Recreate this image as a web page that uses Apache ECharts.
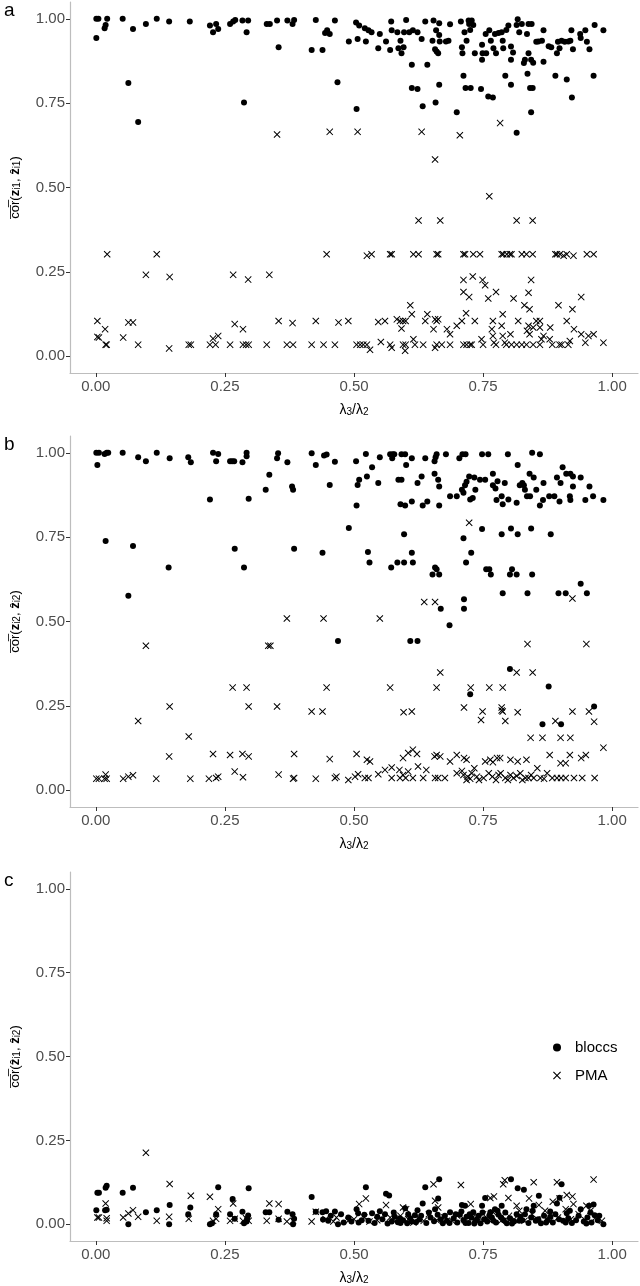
<!DOCTYPE html>
<html lang="en">
  <head>
    <meta charset="utf-8" />
    <script src="https://cdn.jsdelivr.net/npm/echarts@6/dist/echarts.min.js"></script>
    <title>bloccs vs PMA</title>
    <style>
      html, body { margin: 0; padding: 0; background: #fff; }
      #chart { width: 640px; height: 1286px; }
    </style>
  </head>
  <body>
    <div id="chart"></div>
    <script>
      // tick labels shared by all panels
      var ticks = [0, 0.25, 0.5, 0.75, 1]

      // panel a: cor(z_i1, zhat_i1)
      var aBloccs = [
        [0.001,1.0],[0.005,1.0],[0.001,0.943],[0.019,0.982],[0.017,0.972],[0.022,1.0],[0.052,1.0],[0.063,0.81],
        [0.072,0.97],[0.082,0.694],[0.097,0.985],[0.118,1.0],[0.142,0.992],[0.182,0.992],[0.221,0.98],[0.227,0.96],
        [0.233,0.985],[0.237,0.97],[0.26,0.985],[0.266,0.992],[0.27,0.997],[0.284,0.995],[0.287,0.752],[0.292,0.96],
        [0.295,0.995],[0.331,0.985],[0.337,0.985],[0.351,0.995],[0.354,0.916],[0.371,0.995],[0.381,0.985],[0.384,0.997],
        [0.418,0.908],[0.426,0.997],[0.439,0.908],[0.444,0.958],[0.448,0.966],[0.453,0.955],[0.463,0.995],[0.468,0.812],
        [0.49,0.933],[0.504,0.989],[0.505,0.733],[0.507,0.94],[0.51,0.98],[0.521,0.972],[0.523,0.933],[0.528,0.966],
        [0.534,0.96],[0.547,0.913],[0.55,0.955],[0.562,0.933],[0.57,0.908],[0.572,0.992],[0.573,0.966],[0.584,0.96],
        [0.586,0.913],[0.59,0.935],[0.592,0.898],[0.596,0.916],[0.597,0.96],[0.601,0.997],[0.607,0.96],[0.612,0.864],
        [0.612,0.795],[0.614,0.966],[0.623,0.96],[0.623,0.792],[0.631,0.94],[0.633,0.741],[0.638,0.992],[0.642,0.864],
        [0.652,0.935],[0.654,0.995],[0.657,0.91],[0.658,0.752],[0.659,0.966],[0.66,0.903],[0.663,0.898],[0.665,0.952],
        [0.665,0.805],[0.665,0.987],[0.666,0.933],[0.678,0.933],[0.683,0.935],[0.686,0.984],[0.699,0.723],[0.707,0.992],
        [0.709,0.916],[0.71,0.898],[0.712,0.831],[0.714,0.96],[0.716,0.795],[0.718,0.935],[0.722,0.995],[0.723,0.985],
        [0.725,0.967],[0.726,0.795],[0.728,0.995],[0.731,0.982],[0.734,0.898],[0.746,0.792],[0.748,0.923],[0.748,0.879],
        [0.749,0.898],[0.755,0.955],[0.756,0.898],[0.76,0.77],[0.762,0.966],[0.765,0.935],[0.769,0.767],[0.77,0.913],
        [0.773,0.955],[0.775,0.898],[0.78,0.958],[0.786,0.96],[0.788,0.935],[0.789,0.913],[0.793,0.831],[0.795,0.967],
        [0.799,0.98],[0.804,0.918],[0.804,0.879],[0.804,0.805],[0.808,0.9],[0.815,0.662],[0.817,0.999],[0.815,0.982],
        [0.82,0.96],[0.825,0.985],[0.829,0.869],[0.831,0.879],[0.835,0.955],[0.836,0.837],[0.838,0.898],[0.838,0.985],
        [0.841,0.795],[0.843,0.879],[0.844,0.985],[0.846,0.795],[0.843,0.723],[0.847,0.87],[0.853,0.932],[0.857,0.933],
        [0.864,0.935],[0.867,0.966],[0.867,0.873],[0.877,0.919],[0.882,0.916],[0.89,0.831],[0.893,0.898],[0.895,0.932],
        [0.898,0.913],[0.902,0.935],[0.908,0.932],[0.912,0.82],[0.915,0.933],[0.919,0.935],[0.921,0.966],[0.922,0.767],
        [0.924,0.91],[0.938,0.955],[0.939,0.943],[0.948,0.966],[0.951,0.932],[0.956,0.91],[0.964,0.831],[0.966,0.982],
        [0.983,0.966]
      ]
      var aPMA = [
        [0.351,0.657],[0.453,0.665],[0.507,0.665],[0.631,0.665],[0.705,0.655],[0.783,0.691],[0.657,0.583],[0.762,0.474],
        [0.625,0.402],[0.667,0.402],[0.815,0.402],[0.846,0.402],
        [0.022,0.302],[0.118,0.302],[0.447,0.302],[0.525,0.298],[0.534,0.302],[0.57,0.302],[0.573,0.302],[0.615,0.302],
        [0.625,0.302],[0.66,0.302],[0.663,0.302],[0.712,0.302],[0.715,0.302],[0.731,0.302],[0.744,0.302],[0.786,0.302],
        [0.789,0.302],[0.796,0.302],[0.802,0.302],[0.805,0.302],[0.825,0.302],[0.834,0.302],[0.846,0.302],[0.89,0.302],
        [0.893,0.302],[0.899,0.302],[0.906,0.298],[0.912,0.302],[0.925,0.298],[0.951,0.302],[0.964,0.302],
        [0.097,0.241],[0.143,0.235],[0.266,0.241],[0.295,0.227],[0.336,0.241],
        [0.003,0.104],[0.003,0.057],[0.006,0.055],[0.018,0.08],[0.019,0.034],[0.021,0.034],[0.053,0.055],[0.063,0.1],
        [0.072,0.1],[0.082,0.034],[0.142,0.023],[0.18,0.034],[0.184,0.034],[0.221,0.034],[0.227,0.052],[0.232,0.034],
        [0.237,0.06],[0.26,0.034],[0.269,0.095],[0.285,0.08],[0.285,0.034],[0.291,0.034],[0.296,0.034],[0.331,0.034],
        [0.354,0.104],[0.37,0.034],[0.381,0.098],[0.382,0.034],[0.418,0.034],[0.426,0.104],
        [0.441,0.034],[0.463,0.034],[0.47,0.1],[0.489,0.104],[0.505,0.034],[0.512,0.034],[0.518,0.034],[0.525,0.034],
        [0.531,0.019],[0.547,0.101],[0.552,0.042],[0.56,0.104],[0.57,0.034],[0.573,0.025],[0.583,0.109],[0.589,0.104],
        [0.595,0.104],[0.6,0.104],[0.592,0.082],[0.595,0.034],[0.599,0.016],[0.6,0.034],[0.609,0.151],[0.612,0.124],
        [0.615,0.05],[0.618,0.034],[0.634,0.034],[0.638,0.104],[0.642,0.124],[0.654,0.08],[0.657,0.109],[0.66,0.104],
        [0.663,0.109],[0.657,0.025],[0.66,0.034],[0.67,0.034],[0.68,0.08],[0.686,0.065],[0.686,0.034],[0.699,0.09],
        [0.709,0.104],[0.712,0.034],[0.718,0.034],[0.725,0.034],[0.728,0.034],[0.717,0.127],[0.712,0.226],[0.712,0.19],
        [0.723,0.175],[0.73,0.236],[0.734,0.104],[0.749,0.226],[0.754,0.21],[0.747,0.05],[0.75,0.034],[0.76,0.171],
        [0.769,0.104],[0.775,0.19],[0.767,0.08],[0.769,0.06],[0.771,0.04],[0.775,0.034],[0.786,0.09],[0.788,0.124],
        [0.788,0.06],[0.792,0.04],[0.795,0.034],[0.805,0.034],[0.815,0.034],[0.825,0.034],[0.834,0.034],[0.847,0.034],
        [0.803,0.065],[0.809,0.171],[0.818,0.104],[0.83,0.151],[0.835,0.075],[0.838,0.09],[0.838,0.188],[0.84,0.139],
        [0.84,0.065],[0.843,0.226],[0.847,0.085],[0.853,0.104],[0.86,0.104],[0.86,0.085],[0.86,0.034],[0.863,0.05],
        [0.867,0.06],[0.88,0.085],[0.879,0.05],[0.884,0.034],[0.896,0.151],[0.898,0.034],[0.902,0.034],[0.912,0.104],
        [0.915,0.034],[0.918,0.045],[0.923,0.139],[0.926,0.08],[0.94,0.175],[0.94,0.065],[0.948,0.04],[0.954,0.06],
        [0.964,0.065],[0.983,0.04]
      ]

      // panel b: cor(z_i2, zhat_i2)
      var bBloccs = [
        [0.001,1.0],[0.006,1.0],[0.003,0.964],[0.019,0.739],[0.017,0.997],[0.021,1.0],[0.024,1.0],[0.052,1.0],
        [0.063,0.576],[0.072,0.724],[0.082,0.987],[0.097,0.975],[0.118,1.0],[0.141,0.66],[0.143,0.984],[0.179,0.987],
        [0.184,0.972],[0.221,0.862],[0.227,1.0],[0.233,0.975],[0.237,0.997],[0.26,0.975],[0.264,0.975],[0.268,0.975],
        [0.269,0.716],[0.284,0.972],[0.287,0.66],[0.292,1.0],[0.292,0.99],[0.296,0.864],[0.329,0.891],[0.336,0.935],
        [0.351,0.984],[0.353,0.999],[0.371,0.972],[0.38,0.9],[0.382,0.891],[0.384,0.716],[0.418,0.999],[0.426,0.964],
        [0.442,0.992],[0.447,0.995],[0.453,0.905],[0.463,0.974],[0.49,0.777],[0.439,0.704],[0.469,0.442],[0.504,0.975],
        [0.505,0.844],[0.507,0.905],[0.51,0.92],[0.523,0.997],[0.525,0.93],[0.527,0.706],[0.53,0.675],[0.535,0.957],
        [0.547,0.911],[0.55,0.987],[0.57,0.996],[0.575,0.996],[0.578,0.996],[0.572,0.66],[0.574,0.984],[0.584,0.675],
        [0.586,0.92],[0.592,0.92],[0.592,0.996],[0.599,0.996],[0.59,0.848],[0.597,0.759],[0.597,0.675],[0.599,0.844],
        [0.601,0.964],[0.609,0.442],[0.612,0.984],[0.612,0.856],[0.612,0.704],[0.614,0.675],[0.623,0.911],[0.623,0.442],
        [0.631,0.93],[0.633,0.844],[0.638,0.984],[0.642,0.856],[0.652,0.639],[0.656,0.938],[0.656,0.975],[0.658,0.987],
        [0.66,0.996],[0.657,0.66],[0.66,0.655],[0.663,0.92],[0.665,0.9],[0.665,0.639],[0.665,0.844],[0.668,0.538],
        [0.678,0.996],[0.685,0.489],[0.686,0.871],[0.699,0.871],[0.704,0.984],[0.709,0.891],[0.71,0.996],[0.716,0.996],
        [0.712,0.882],[0.712,0.747],[0.713,0.566],[0.713,0.538],[0.715,0.904],[0.717,0.675],[0.718,0.914],[0.723,0.93],
        [0.725,0.862],[0.727,0.704],[0.73,0.866],[0.733,0.927],[0.735,0.891],[0.744,0.92],[0.748,0.996],[0.748,0.774],
        [0.754,0.92],[0.756,0.655],[0.76,0.996],[0.762,0.655],[0.765,0.639],[0.769,0.938],[0.769,0.904],[0.774,0.894],
        [0.776,0.86],[0.778,0.916],[0.786,0.871],[0.786,0.759],[0.788,0.848],[0.788,0.584],[0.792,0.911],[0.798,0.996],
        [0.799,0.862],[0.804,0.776],[0.806,0.655],[0.802,0.639],[0.815,0.639],[0.817,0.964],[0.817,0.759],[0.815,0.852],
        [0.821,0.904],[0.826,0.911],[0.829,0.904],[0.831,0.891],[0.835,0.871],[0.836,0.584],[0.84,0.938],[0.841,0.871],
        [0.843,0.776],[0.845,0.639],[0.845,1.0],[0.848,0.927],[0.853,0.891],[0.86,0.996],[0.86,0.844],[0.866,0.86],
        [0.867,0.911],[0.878,0.871],[0.881,0.759],[0.888,0.871],[0.893,0.927],[0.896,0.584],[0.898,0.856],[0.9,0.911],
        [0.904,0.957],[0.91,0.584],[0.911,0.938],[0.919,0.938],[0.924,0.93],[0.918,0.871],[0.919,0.86],[0.924,0.9],
        [0.939,0.927],[0.939,0.612],[0.948,0.86],[0.951,0.584],[0.956,0.9],[0.963,0.871],[0.983,0.86],
        [0.802,0.359],[0.725,0.284],[0.877,0.307],[0.965,0.248],[0.865,0.195],[0.901,0.195]
      ]
      var bPMA = [
        [0.097,0.428],[0.334,0.428],[0.338,0.428],[0.37,0.509],[0.723,0.793],[0.636,0.558],[0.657,0.558],[0.441,0.509],
        [0.55,0.509],[0.923,0.568],[0.836,0.433],[0.95,0.433],
        [0.265,0.304],[0.292,0.304],[0.143,0.248],[0.296,0.248],[0.351,0.248],[0.418,0.233],[0.082,0.205],[0.18,0.159],
        [0.142,0.1],[0.227,0.107],[0.26,0.104],[0.284,0.107],[0.296,0.1],[0.384,0.107],
        [0.001,0.034],[0.006,0.034],[0.017,0.034],[0.021,0.034],[0.019,0.046],[0.053,0.034],[0.063,0.04],[0.072,0.044],
        [0.117,0.034],[0.183,0.034],[0.219,0.034],[0.233,0.036],[0.237,0.04],[0.269,0.055],[0.285,0.038],[0.354,0.046],
        [0.382,0.034],[0.384,0.036],[0.426,0.034],
        [0.667,0.349],[0.815,0.349],[0.846,0.349],[0.447,0.304],[0.57,0.304],[0.66,0.304],[0.726,0.304],[0.762,0.304],
        [0.788,0.304],[0.439,0.233],[0.596,0.231],[0.612,0.233],[0.713,0.245],[0.749,0.233],[0.746,0.208],[0.786,0.245],
        [0.788,0.233],[0.786,0.236],[0.793,0.205],[0.817,0.231],[0.842,0.155],[0.865,0.155],[0.89,0.205],[0.9,0.155],
        [0.919,0.155],[0.923,0.233],[0.955,0.233],[0.965,0.203],[0.983,0.126],
        [0.453,0.092],[0.505,0.107],[0.525,0.09],[0.531,0.085],[0.595,0.095],[0.605,0.11],[0.614,0.12],[0.622,0.107],
        [0.656,0.1],[0.66,0.104],[0.667,0.1],[0.686,0.085],[0.699,0.104],[0.713,0.095],[0.718,0.09],[0.754,0.085],
        [0.764,0.09],[0.769,0.083],[0.777,0.095],[0.783,0.095],[0.803,0.09],[0.817,0.085],[0.834,0.09],[0.879,0.104],
        [0.9,0.08],[0.91,0.08],[0.918,0.104],[0.94,0.095],[0.949,0.104],
        [0.463,0.036],[0.466,0.04],[0.489,0.03],[0.502,0.04],[0.508,0.047],[0.521,0.036],[0.528,0.036],[0.547,0.047],
        [0.56,0.06],[0.573,0.067],[0.573,0.036],[0.588,0.06],[0.589,0.036],[0.595,0.045],[0.6,0.036],[0.605,0.055],
        [0.614,0.036],[0.624,0.07],[0.634,0.036],[0.64,0.06],[0.657,0.036],[0.663,0.036],[0.676,0.036],[0.699,0.05],
        [0.709,0.057],[0.712,0.045],[0.718,0.03],[0.725,0.034],[0.733,0.065],[0.738,0.04],[0.751,0.036],[0.761,0.05],
        [0.768,0.04],[0.784,0.05],[0.793,0.036],[0.803,0.045],[0.809,0.036],[0.822,0.05],[0.832,0.036],[0.838,0.036],
        [0.848,0.036],[0.855,0.065],[0.861,0.036],[0.874,0.05],[0.884,0.036],[0.893,0.036],[0.901,0.036],[0.91,0.036],
        [0.926,0.036],[0.942,0.036],[0.966,0.036],[0.72,0.04],[0.728,0.05],[0.742,0.03],[0.775,0.03],[0.78,0.045],
        [0.798,0.03],[0.815,0.042],[0.826,0.03],[0.843,0.045],[0.868,0.034]
      ]

      // panel c: cor(zhat_i1, zhat_i2)
      var cBloccs = [
        [0.001,0.042],[0.003,0.094],[0.006,0.094],[0.019,0.109],[0.021,0.115],[0.018,0.042],[0.021,0.043],[0.052,0.094],
        [0.063,0.0],[0.072,0.109],[0.097,0.036],[0.118,0.042],[0.143,0.057],[0.142,0.0],[0.183,0.05],[0.179,0.03],
        [0.221,0.0],[0.225,0.003],[0.237,0.11],[0.233,0.03],[0.26,0.03],[0.265,0.075],[0.269,0.016],[0.284,0.037],
        [0.287,0.003],[0.292,0.008],[0.295,0.026],[0.293,0.016],[0.296,0.107],[0.329,0.036],[0.336,0.036],[0.354,0.013],
        [0.371,0.037],[0.381,0.03],[0.384,0.016],[0.382,0.0],[0.418,0.081],[0.426,0.037],
        [0.439,0.036],[0.446,0.039],[0.463,0.038],[0.469,0.0],[0.44,0.014],[0.489,0.02],[0.505,0.045],[0.508,0.033],
        [0.509,0.005],[0.523,0.11],[0.535,0.033],[0.528,0.01],[0.55,0.039],[0.562,0.091],[0.568,0.086],[0.573,0.008],
        [0.579,0.022],[0.589,0.018],[0.599,0.048],[0.609,0.018],[0.618,0.027],[0.623,0.042],[0.633,0.062],[0.638,0.11],
        [0.657,0.045],[0.663,0.077],[0.665,0.134],[0.676,0.025],[0.686,0.036],[0.709,0.057],[0.715,0.055],[0.718,0.022],
        [0.731,0.036],[0.748,0.055],[0.754,0.078],[0.764,0.036],[0.773,0.045],[0.786,0.055],[0.804,0.134],[0.817,0.107],
        [0.829,0.103],[0.822,0.022],[0.834,0.045],[0.848,0.055],[0.858,0.085],[0.88,0.022],[0.893,0.062],[0.898,0.079],
        [0.902,0.119],[0.912,0.033],[0.939,0.045],[0.955,0.055],[0.964,0.059],[0.966,0.027],[0.983,0.0],
        [0.45,0.01],[0.48,0.005],[0.515,0.012],[0.54,0.004],[0.555,0.015],[0.565,0.002],[0.585,0.006],[0.595,0.012],
        [0.603,0.003],[0.612,0.008],[0.627,0.014],[0.64,0.004],[0.648,0.02],[0.655,0.009],[0.668,0.015],[0.672,0.003],
        [0.68,0.01],[0.693,0.018],[0.7,0.005],[0.705,0.028],[0.712,0.012],[0.722,0.004],[0.727,0.02],[0.735,0.01],
        [0.741,0.025],[0.745,0.003],[0.752,0.015],[0.758,0.008],[0.767,0.02],[0.775,0.005],[0.78,0.028],[0.79,0.012],
        [0.796,0.003],[0.802,0.018],[0.81,0.008],[0.815,0.03],[0.826,0.012],[0.838,0.004],[0.843,0.02],[0.852,0.01],
        [0.862,0.003],[0.868,0.025],[0.875,0.012],[0.885,0.005],[0.89,0.03],[0.905,0.01],[0.915,0.018],[0.922,0.004],
        [0.93,0.012],[0.945,0.008],[0.952,0.02],[0.96,0.005],[0.972,0.012],
        [0.455,0.025],[0.475,0.03],[0.495,0.008],[0.52,0.028],[0.545,0.022],[0.56,0.03],[0.577,0.035],[0.59,0.004],
        [0.605,0.03],[0.62,0.006],[0.63,0.025],[0.645,0.035],[0.662,0.028],[0.685,0.004],[0.697,0.03],[0.708,0.038],
        [0.716,0.004],[0.724,0.03],[0.733,0.002],[0.738,0.015],[0.749,0.035],[0.762,0.026],[0.77,0.01],[0.778,0.04],
        [0.785,0.02],[0.793,0.035],[0.806,0.002],[0.82,0.01],[0.831,0.03],[0.846,0.04],[0.857,0.015],[0.872,0.005],
        [0.88,0.038],[0.897,0.015],[0.91,0.005],[0.918,0.04],[0.935,0.025],[0.95,0.002],[0.958,0.035],[0.975,0.025]
      ]
      var cPMA = [
        [0.097,0.213],[0.143,0.12],[0.184,0.085],[0.221,0.082],[0.266,0.062],[0.237,0.045],[0.019,0.062],[0.003,0.02],
        [0.006,0.02],[0.021,0.01],[0.021,0.018],[0.053,0.02],[0.063,0.032],[0.072,0.042],[0.082,0.022],[0.118,0.01],
        [0.142,0.022],[0.18,0.016],[0.227,0.01],[0.233,0.016],[0.26,0.01],[0.269,0.016],[0.285,0.01],[0.296,0.01],
        [0.291,0.018],[0.331,0.01],[0.336,0.062],[0.354,0.06],[0.354,0.016],[0.37,0.008],[0.382,0.01],[0.418,0.008],
        [0.426,0.037],
        [0.654,0.119],[0.707,0.117],[0.792,0.131],[0.789,0.119],[0.848,0.125],[0.893,0.125],[0.964,0.133],[0.523,0.077],
        [0.51,0.06],[0.562,0.057],[0.595,0.05],[0.601,0.045],[0.657,0.07],[0.663,0.05],[0.726,0.06],[0.764,0.078],
        [0.771,0.083],[0.799,0.078],[0.815,0.055],[0.839,0.077],[0.858,0.057],[0.885,0.067],[0.898,0.077],[0.912,0.087],
        [0.923,0.083],[0.925,0.06],[0.95,0.055],[0.466,0.02],[0.489,0.01],
        [0.445,0.015],[0.46,0.008],[0.5,0.015],[0.52,0.02],[0.53,0.008],[0.545,0.012],[0.57,0.02],[0.58,0.01],
        [0.59,0.025],[0.605,0.015],[0.615,0.005],[0.625,0.02],[0.635,0.01],[0.645,0.03],[0.66,0.012],[0.675,0.02],
        [0.69,0.01],[0.7,0.025],[0.715,0.012],[0.73,0.02],[0.74,0.008],[0.75,0.03],[0.76,0.015],[0.77,0.035],
        [0.785,0.01],[0.8,0.025],[0.81,0.015],[0.82,0.04],[0.83,0.01],[0.845,0.03],[0.855,0.015],[0.87,0.04],
        [0.88,0.01],[0.895,0.02],[0.91,0.045],[0.92,0.015],[0.935,0.03],[0.948,0.012],[0.958,0.04],[0.968,0.02],
        [0.98,0.01]
      ]

      var yTitles = [
        'c\u0305o\u0305r\u0305({b|z}{s|i1}, {b|\u1e91}{s|i1})',
        'c\u0305o\u0305r\u0305({b|z}{s|i2}, {b|\u1e91}{s|i2})',
        'c\u0305o\u0305r\u0305({b|\u1e91}{s|i1}, {b|\u1e91}{s|i2})'
      ]
      var panelTags = ['a', 'b', 'c']

      var FONT = '"Liberation Sans", "DejaVu Sans", sans-serif'
      var CROSS = 'path://M1,0L5,4L9,0L10,1L6,5L10,9L9,10L5,6L1,10L0,9L4,5L0,1Z'
      var tops = [2, 436, 872]

      var chart = echarts.init(document.getElementById('chart'), null, { renderer: 'canvas' })

      var grids = [], xAxes = [], yAxes = [], series = [], graphics = []
      var panels = [[aBloccs, aPMA], [bBloccs, bPMA], [cBloccs, cPMA]]
      var richTitle = {
        b: { fontWeight: 'bold', fontSize: 13, fontFamily: FONT, color: '#000' },
        s: { fontSize: 10, fontFamily: FONT, color: '#000', verticalAlign: 'bottom' }
      }

      panels.forEach(function (p, i) {
        grids.push({ left: 70, right: 2, top: tops[i], height: 371 })
        xAxes.push({
          gridIndex: i, type: 'value', min: -0.05, max: 1.05,
          splitLine: { show: false },
          axisLine: { onZero: false, lineStyle: { color: '#bdbdbd', width: 1.2 } },
          axisTick: { customValues: ticks, length: 4, lineStyle: { color: '#333' } },
          axisLabel: {
            customValues: ticks, color: '#4d4d4d', fontSize: 15, fontFamily: FONT, margin: 6,
            formatter: function (v) { return v.toFixed(2) }
          },
          name: '\u03bb{s|3}/\u03bb{s|2}', nameLocation: 'middle', nameGap: 30,
          nameTextStyle: { color: '#000', fontSize: 14, fontFamily: FONT, rich: richTitle }
        })
        yAxes.push({
          gridIndex: i, type: 'value', min: -0.05, max: 1.05,
          splitLine: { show: false },
          axisLine: { show: true, onZero: false, lineStyle: { color: '#bdbdbd', width: 1.2 } },
          axisTick: { show: true, customValues: ticks, length: 4, lineStyle: { color: '#333' } },
          axisLabel: {
            customValues: ticks, color: '#4d4d4d', fontSize: 15, fontFamily: FONT, margin: 5,
            formatter: function (v) { return v.toFixed(2) }
          },
          name: yTitles[i], nameLocation: 'middle', nameGap: 48, nameRotate: 90,
          nameTextStyle: { color: '#000', fontSize: 13, fontFamily: FONT, rich: richTitle }
        })
        series.push({
          name: 'bloccs', type: 'scatter', xAxisIndex: i, yAxisIndex: i,
          data: p[0], symbol: 'circle', symbolSize: 6,
          itemStyle: { color: '#000', opacity: 1 }, silent: true
        })
        series.push({
          name: 'PMA', type: 'scatter', xAxisIndex: i, yAxisIndex: i,
          data: p[1], symbol: CROSS, symbolSize: 7,
          itemStyle: { color: '#000', opacity: 1 }, silent: true
        })
        graphics.push({
          type: 'text', left: 4, top: tops[i] - 1,
          style: { text: panelTags[i], font: '19px ' + FONT, fill: '#000' }
        })
      })

      chart.setOption({
        animation: false,
        backgroundColor: '#fff',
        grid: grids,
        xAxis: xAxes,
        yAxis: yAxes,
        series: series,
        graphic: graphics,
        legend: {
          data: ['bloccs', 'PMA'], orient: 'vertical', left: 553, top: 1040, padding: 0,
          itemWidth: 8, itemHeight: 8, itemGap: 13,
          textStyle: { color: '#000', fontSize: 15, fontFamily: FONT, padding: [0, 0, 0, 9] }
        }
      })
    </script>
  </body>
</html>
